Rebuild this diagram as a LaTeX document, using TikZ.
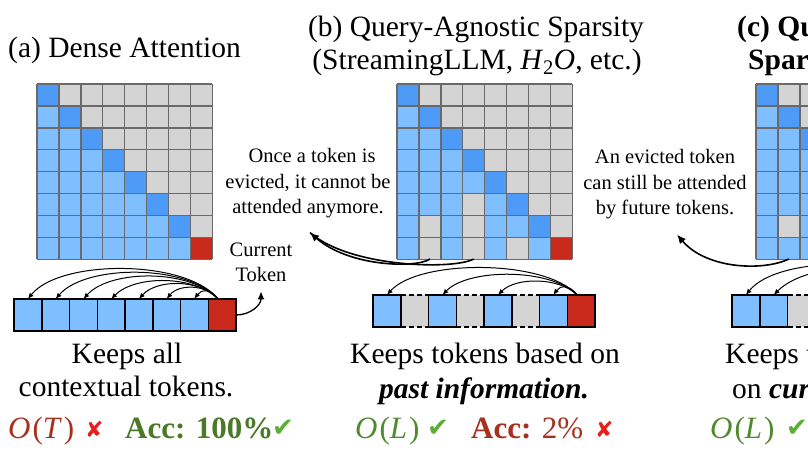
\documentclass[tikz,border=0pt]{standalone}
\usepackage{xcolor}
\usepackage{fontspec}
\usepackage{tikz}
\usetikzlibrary{arrows.meta}
\setmainfont{Liberation Serif}
\newfontfamily\symfont{DejaVu Sans}

\definecolor{lblue}{HTML}{80BFFF}
\definecolor{dblue}{HTML}{4D9BF7}
\definecolor{lgray}{HTML}{D4D4D4}
\definecolor{tred}{HTML}{C9291A}
\definecolor{gridgray}{HTML}{6A6A6A}
\definecolor{ored}{HTML}{A8301E}
\definecolor{xred}{HTML}{E3211E}
\definecolor{ogreen}{HTML}{4E8A2E}
\definecolor{accgreen}{HTML}{4A7A28}
\definecolor{tickgreen}{HTML}{5DAE35}

% 8x8 attention map: x, y of top left corner, list of dropped cells r/c
\newcommand{\attnmat}[3]{%
  \foreach \r in {0,...,7}{%
    \foreach \c in {0,...,7}{%
      \ifnum\c<\r \def\cellcol{lblue}\else\ifnum\c=\r \def\cellcol{dblue}\else\def\cellcol{lgray}\fi\fi
      \fill[\cellcol] ({#1+\c*21.9},{#2+\r*21.9}) rectangle ++(21.9,21.9);
    }}%
  \foreach \r/\c in {#3}{\fill[lgray] ({#1+\c*21.9},{#2+\r*21.9}) rectangle ++(21.9,21.9);}%
  \fill[tred] ({#1+7*21.9},{#2+7*21.9}) rectangle ++(21.9,21.9);
  \foreach \k in {0,...,8}{%
    \draw[gridln] ({#1+\k*21.9},#2) -- ++(0,175.2);
    \draw[gridln] (#1,{#2+\k*21.9}) -- ++(175.2,0);}%
}

\begin{document}
\begin{tikzpicture}[x=1pt, y=-1pt,
    gridln/.style={draw=gridgray, line width=1.4pt},
    tok/.style={draw=black, line width=1.5pt, minimum width=27.75pt, minimum height=32pt, inner sep=0pt, outer sep=0pt},
    gap/.style={fill=lgray, minimum width=27.75pt, minimum height=32pt, inner sep=0pt, outer sep=0pt},
    gapln/.style={line width=1.5pt, dash pattern=on 5pt off 3pt},
    arc/.style={line width=1pt, -{Latex[length=6pt,width=5pt]}},
    bigarc/.style={line width=1.6pt},
    ttl/.style={font=\fontsize{29.5}{34}\selectfont, inner sep=0pt, anchor=base},
    note/.style={font=\fontsize{20.5}{24}\selectfont, inner sep=0pt, anchor=base},
    cost/.style={font=\fontsize{31}{34}\selectfont, inner sep=0pt, anchor=base west},
    cross/.style={font=\symfont\fontsize{22}{24}\selectfont, text=xred, inner sep=0pt, anchor=base west},
    tick/.style={font=\symfont\fontsize{26}{28}\selectfont, text=tickgreen, inner sep=0pt, anchor=base west}]
	\useasboundingbox (0,0) rectangle (808,455);
	\fill[white] (0,0) rectangle (808,455);

	% titles
	\node[ttl, anchor=base west] (tA) at (8,57) {(a) Dense Attention};
	\node[ttl] (tB1) at (476,36) {(b) Query-Agnostic Sparsity};
	\node[ttl] (tB2) at (477,69) {(StreamingLLM, \textit{H}\textsubscript{2}\textit{O}, etc.)};
	\node[ttl, anchor=base west, font=\fontsize{29.5}{34}\selectfont\bfseries] (tC1) at (737,36) {(c) Query-Aware};
	\node[ttl, anchor=base west, font=\fontsize{29.5}{34}\selectfont\bfseries] (tC2) at (748,69) {Sparsity};

	% attention maps
	\attnmat{37}{84}{7/7}
	\attnmat{397}{84}{5/3, 6/1, 6/3, 7/1, 7/3, 7/5}
	\attnmat{756}{84}{6/1}

	% token rows
	\foreach \i in {0,...,6}
		\node[tok, fill=lblue] (ta\i) at ({27.875+\i*27.75},315) {};
	\node[tok, fill=tred] (ta7) at ({27.875+7*27.75},315) {};

	\foreach \i in {1,3,5}
		\node[gap] (tb\i) at ({386.875+\i*27.75},311) {};
	\foreach \i in {0,2,4,6}
		\node[tok, fill=lblue] (tb\i) at ({386.875+\i*27.75},311) {};
	\node[tok, fill=tred] (tb7) at ({386.875+7*27.75},311) {};

	\foreach \i in {2,3,5}
		\node[gap] (tc\i) at ({745.875+\i*27.75},311) {};
	\foreach \i in {0,1,4,6}
		\node[tok, fill=lblue] (tc\i) at ({745.875+\i*27.75},311) {};
	\node[tok, fill=tred] (tc7) at ({745.875+7*27.75},311) {};

	\foreach \t in {tb1,tb3,tb5,tc2,tc3,tc5} {
		\draw[gapln] (\t.north west) -- (\t.north east);
		\draw[gapln] (\t.south west) -- (\t.south east);
	}

	% current token attends to kept tokens
	\foreach \i/\h/\a in {0/40/32, 1/35/30, 2/30/27, 3/24/24, 4/20/18, 5/15/12, 6/10/7}
		\draw[arc] ([xshift=-4pt]ta7.north) .. controls +(-\a,-\h) and +(\a,-\h) .. (ta\i.north);
	\foreach \i/\h/\a in {0/36/32, 2/27/26, 4/18/18, 6/10/7}
		\draw[arc] ([xshift=-4pt]tb7.north) .. controls +(-\a,-\h) and +(\a,-\h) .. (tb\i.north);
	\foreach \i/\h/\a in {0/40/32, 1/35/35, 4/22/20, 6/10/7}
		\draw[arc] ([xshift=-4pt]tc7.north) .. controls +(-\a,-\h) and +(\a,-\h) .. (tc\i.north);

	% notes
	\node[note] (cur1) at (261,256) {Current};
	\node[note] (cur2) at (261,281) {Token};
	\draw[line width=1.3pt, -{Latex[length=8pt,width=7pt]}] (ta7.east) .. controls +(14,0) and +(0,14) .. ([yshift=-10pt]cur2.south);

	\node[note] (ev1) at (312,162) {Once a token is};
	\node[note] (ev2) at (308,188) {evicted, it cannot be};
	\node[note] (ev3) at (308,213) {attended anymore.};
	\coordinate (bm1) at (429.9,259);
	\coordinate (bm3) at (473.7,259);
	\draw[bigarc, -{Latex[length=9pt,width=8pt]}] (bm1) .. controls +(-12,9) and +(40,35) .. ([xshift=2pt,yshift=-15pt]ev3.south);
	\draw[bigarc] (bm3) .. controls +(-20,11) and +(40,35) .. ([xshift=2pt,yshift=-15pt]ev3.south);

	\node[note] (fu1) at (665,163) {An evicted token};
	\node[note] (fu2) at (665,189) {can still be attended};
	\node[note] (fu3) at (665,214) {by future tokens.};
	\coordinate (cm1) at (788.9,259);
	\draw[bigarc, -{Latex[length=9pt,width=8pt]}] (cm1) .. controls +(-25,12) and +(30,35) .. ([xshift=12pt,yshift=-16pt]fu3.south);

	% captions
	\node[ttl] (kA1) at (127,363) {Keeps all};
	\node[ttl] (kA2) at (126,396) {contextual tokens.};
	\node[ttl] (kB1) at (485,363) {Keeps tokens based on};
	\node[ttl] (kB2) at (484,398) {\textbf{\textit{past information.}}};
	\node[ttl, anchor=base west] (kC1) at (725,363) {Keeps tokens based};
	\node[ttl, anchor=base west] (kC2) at (732,398) {on \textbf{\textit{current query.}}};

	% cost and accuracy
	\node[cost, text=ored] (oA) at (8,438) {\textit{O\/}\kern2pt(\textit{T\/}\kern2pt)};
	\node[cross] (xA) at (85,437) {✘};
	\node[cost, text=accgreen, font=\fontsize{31}{34}\selectfont\bfseries] (accA) at (125,438) {Acc: 100\%};
	\node[tick] (ckA) at (272,436) {✔};

	\node[cost, text=ogreen] (oB) at (355,438) {\textit{O\/}\kern2pt(\textit{L\/}\kern2pt)};
	\node[tick] (ckB) at (427,436) {✔};
	\node[cost, text=ored] (accB) at (471,438) {\textbf{Acc:} 2\%};
	\node[cross] (xB) at (595,437) {✘};

	\node[cost, text=ogreen] (oC) at (710,438) {\textit{O\/}\kern2pt(\textit{L\/}\kern2pt)};
	\node[tick] (ckC) at (786,436) {✔};
\end{tikzpicture}
\end{document}
